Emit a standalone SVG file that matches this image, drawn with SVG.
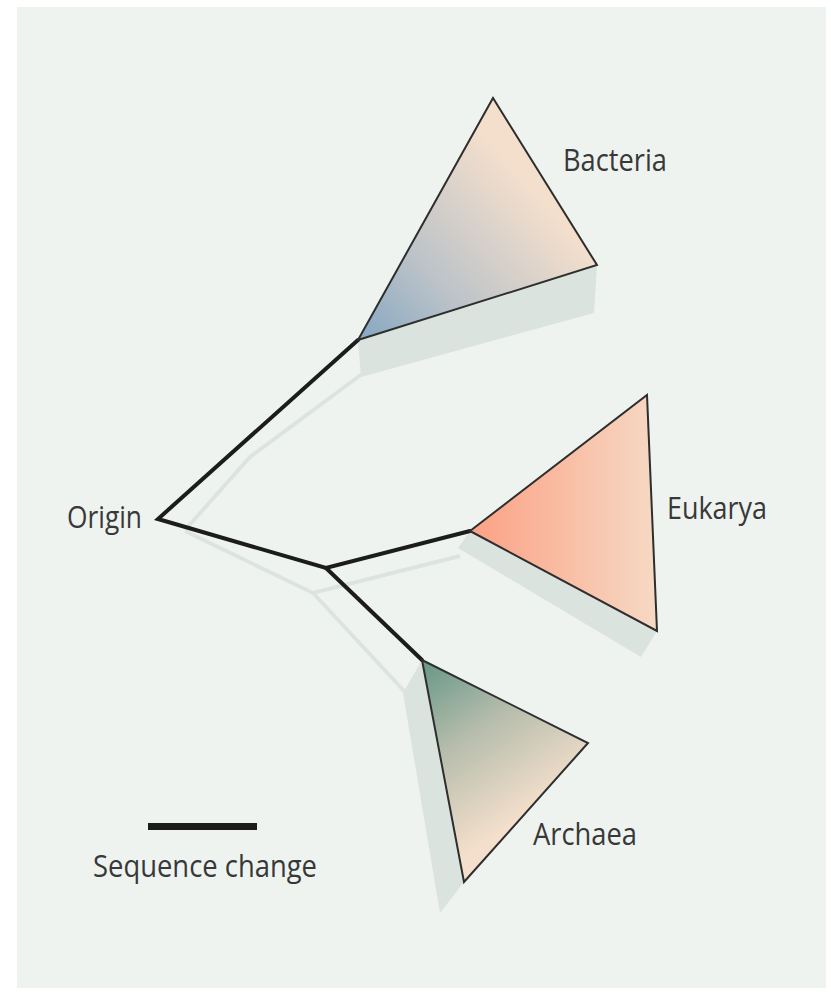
<svg xmlns="http://www.w3.org/2000/svg" width="831" height="997" viewBox="0 0 831 997">
<style>
.lbl{font-family:"Open Sans","Liberation Sans",sans-serif;font-size:31px;fill:#383838;}
.tri{stroke:#2e2e2e;stroke-width:2;stroke-linejoin:miter;}
.br{fill:none;stroke:#1c1c1c;stroke-width:4;stroke-linejoin:miter;stroke-linecap:round;}
.sh{fill:#dbe3df;}
.shl{fill:none;stroke:#dde4e0;stroke-width:4;stroke-linejoin:miter;}
</style>
<defs>
<linearGradient id="gBac" gradientUnits="userSpaceOnUse" x1="365" y1="335" x2="530" y2="185">
<stop offset="0" stop-color="#8aa9c2"/>
<stop offset="0.4" stop-color="#bcc3c8"/>
<stop offset="1" stop-color="#f4dfcc"/>
</linearGradient>
<linearGradient id="gEuk" gradientUnits="userSpaceOnUse" x1="470" y1="531" x2="657" y2="531">
<stop offset="0" stop-color="#fca184"/>
<stop offset="1" stop-color="#f6d9c4"/>
</linearGradient>
<linearGradient id="gArc" gradientUnits="userSpaceOnUse" x1="425" y1="665" x2="525" y2="815">
<stop offset="0" stop-color="#6a9988"/>
<stop offset="0.45" stop-color="#b5bcac"/>
<stop offset="1" stop-color="#f3dfcb"/>
</linearGradient>
</defs>
<rect x="0" y="0" width="831" height="997" fill="#ffffff"/>
<rect x="17" y="7" width="809" height="981" fill="#eff3f0"/>
<g id="shadows">
<polygon class="sh" points="358,340 597,265 594,313 361,377"/>
<polygon class="sh" points="470,531 657,631 641,657 458,548"/>
<polygon class="sh" points="422,660 464,882 440,913 403,693"/>
<polyline class="shl" points="362,374 250,457 185,530"/>
<polyline class="shl" points="185,531 313,593 460,556"/>
<polyline class="shl" points="313,593 405,692"/>
</g>
<g id="connectors">
<polyline class="br" points="358,340 158,519 326,568 470,531"/>
<line class="br" x1="326" y1="568" x2="422" y2="660"/>
</g>
<g id="bacteria">
<polygon class="tri" fill="url(#gBac)" points="358,340 493,98 597,265"/>
<text class="lbl" x="563" y="171" textLength="104" lengthAdjust="spacingAndGlyphs">Bacteria</text>
</g>
<g id="eukarya">
<polygon class="tri" fill="url(#gEuk)" points="470,531 647,395 657,631"/>
<text class="lbl" x="667" y="519" textLength="100" lengthAdjust="spacingAndGlyphs">Eukarya</text>
</g>
<g id="archaea">
<polygon class="tri" fill="url(#gArc)" points="422,660 588,743 464,882"/>
<text class="lbl" x="533" y="845" textLength="104" lengthAdjust="spacingAndGlyphs">Archaea</text>
</g>
<g id="origin">
<text class="lbl" x="67" y="528" textLength="75" lengthAdjust="spacingAndGlyphs">Origin</text>
</g>
<g id="scale">
<rect x="148" y="823" width="109" height="7" fill="#1c1c1c"/>
<text class="lbl" x="93" y="877" textLength="224" lengthAdjust="spacingAndGlyphs">Sequence change</text>
</g>
</svg>
